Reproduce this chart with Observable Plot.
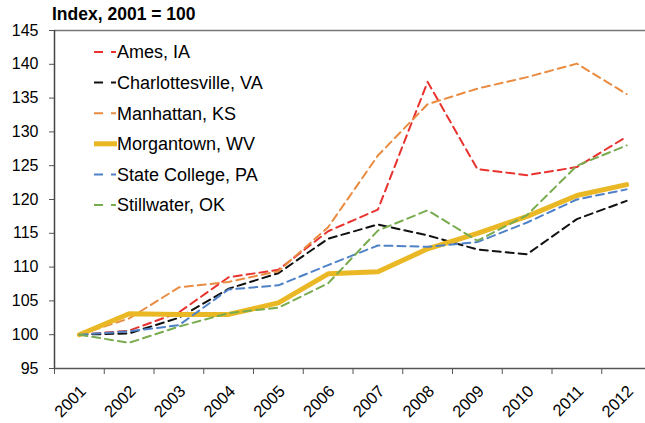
<!DOCTYPE html>
<html><head><meta charset="utf-8">
<script src="https://cdn.jsdelivr.net/npm/d3@7"></script>
<script src="https://cdn.jsdelivr.net/npm/@observablehq/plot@0.6"></script>
<style>body{margin:0;background:#fff;} svg{display:block}</style>
</head><body><div id="chart"></div>
<script>
const years = [2001, 2002, 2003, 2004, 2005, 2006, 2007, 2008, 2009, 2010, 2011, 2012];
const yTicks = [95, 100, 105, 110, 115, 120, 125, 130, 135, 140, 145];
const seriesNames = ["Ames, IA", "Charlottesville, VA", "Manhattan, KS", "Morgantown, WV", "State College, PA", "Stillwater, OK"];
const ames          = [100, 100.6, 103.3, 108.5, 109.6, 115.3, 118.5, 137.4, 124.5, 123.6, 124.8, 129.3];
const charlottesville = [100, 100.2, 102.5, 106.8, 109.1, 114.2, 116.3, 114.7, 112.6, 111.9, 117.1, 119.8];
const manhattan     = [100, 102.4, 107.0, 107.8, 109.4, 115.9, 126.5, 134.1, 136.4, 138.1, 140.1, 135.6];
const morgantown    = [100, 103.1, 103.0, 103.0, 104.7, 109.0, 109.3, 112.7, 115.0, 117.5, 120.6, 122.2];
const stateCollege  = [100, 100.5, 101.4, 106.7, 107.3, 110.3, 113.2, 113.0, 113.7, 116.6, 120.0, 121.5];
const stillwater    = [100, 98.8, 101.2, 103.2, 104.0, 107.6, 115.4, 118.4, 113.9, 117.7, 125.0, 128.0];
const seriesValues = [ames, charlottesville, manhattan, morgantown, stateCollege, stillwater];
const colors = ["#e8322e", "#111111", "#e98c41", "#e9b824", "#4f81c7", "#79ab4f"];
const title = "Index, 2001 = 100";

const boundaries = years.map(y => y - 0.5);
const rows = [];
seriesNames.forEach((name, i) => {
  years.forEach((yr, j) => rows.push({series: name, year: yr, value: seriesValues[i][j]}));
});

const lineMarks = seriesNames.map((name, i) => {
  const solid = name === "Morgantown, WV";
  return Plot.line(rows.filter(d => d.series === name), {
    x: "year", y: "value", stroke: colors[i],
    strokeWidth: solid ? 5 : 2,
    strokeDasharray: solid ? null : "8,5",
    strokeLinejoin: "round"
  });
});

const plot = Plot.plot({
  width: 645, height: 423,
  marginLeft: 54, marginRight: -6, marginTop: 30, marginBottom: 55,
  style: {fontFamily: "'Liberation Sans', Arial, Helvetica, sans-serif", background: "#fff", color: "#000", overflow: "hidden"},
  x: {domain: [2000.5, 2012.5], axis: null, label: null},
  y: {domain: [95, 145], axis: null, label: null},
  marks: [
    Plot.ruleY([145], {stroke: "#777", strokeWidth: 1.5}),
    Plot.axisY({ticks: yTicks, tickSize: 5, tickPadding: 11, fontSize: 16, stroke: "#555", label: null, tickFormat: d => String(d)}),
    Plot.axisX({ticks: boundaries, tickSize: 6, stroke: "#555", label: null, tickFormat: () => ""}),
    Plot.axisX({ticks: years, tickSize: 0, tickPadding: 20, dx: 4, tickRotate: -45, fontSize: 16.5, label: null, tickFormat: d => String(d)}),
    Plot.ruleX([2000.5], {stroke: "#444", strokeWidth: 1.5}),
    Plot.ruleY([95], {stroke: "#555", strokeWidth: 1.5}),
    ...lineMarks
  ]
});

const svg = d3.select(plot);
svg.append("text")
  .attr("x", 52).attr("y", 20)
  .attr("text-anchor", "start")
  .attr("font-weight", "bold").attr("font-size", 17.5)
  .attr("fill", "#000")
  .text(title);

const lg = svg.append("g").attr("font-size", 18).attr("fill", "#000").attr("text-anchor", "start");
seriesNames.forEach((name, i) => {
  const cy = 52 + i * 30.6;
  const solid = name === "Morgantown, WV";
  lg.append("line")
    .attr("x1", 94).attr("x2", solid ? 117 : 116)
    .attr("y1", cy).attr("y2", cy)
    .attr("stroke", colors[i])
    .attr("stroke-width", solid ? 5 : 2)
    .attr("stroke-dasharray", solid ? null : "9,8");
  lg.append("text")
    .attr("x", 117).attr("y", cy)
    .attr("dy", "0.35em")
    .text(name);
});

document.getElementById("chart").appendChild(plot);
</script>
</body></html>
